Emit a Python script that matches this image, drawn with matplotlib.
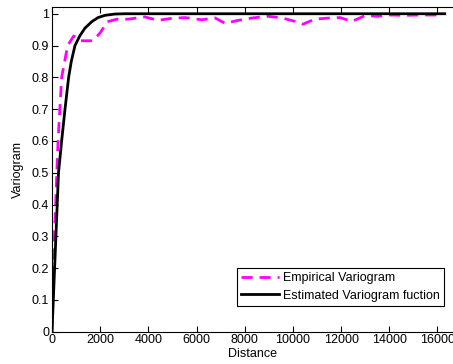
import numpy as np
import matplotlib.pyplot as plt

plt.rcParams['font.family'] = ['Liberation Sans', 'DejaVu Sans']

# empirical variogram
emp_d = [0, 100, 250, 400, 650, 900, 1200, 1700, 2000, 2300, 2700, 3150, 3860,
         4400, 4900, 5520, 6220, 6760, 7180, 7720, 8340, 8960, 9540, 10080,
         10410, 10910, 11410, 11950, 12450, 12990, 13530, 14020, 14650, 15270, 15970]
emp_v = [0, 0.3, 0.6, 0.8, 0.9, 0.93, 0.915, 0.915, 0.94, 0.975, 0.983, 0.983, 0.99,
         0.979, 0.985, 0.988, 0.981, 0.987, 0.97, 0.979, 0.987, 0.992, 0.987, 0.976,
         0.967, 0.983, 0.986, 0.988, 0.976, 0.994, 0.992, 0.996, 0.995, 0.996, 0.996]

# estimated variogram model
mod_d = [0, 270, 400, 540, 690, 800, 954, 1150, 1370, 1650, 1910, 2200, 2600, 3000, 16300]
mod_v = [0, 0.5, 0.6, 0.7, 0.8, 0.85, 0.9, 0.93, 0.955, 0.975, 0.988, 0.995, 0.999, 1.0, 1.0]

fig = plt.figure(figsize=(4.53, 3.64), dpi=100)
ax = fig.add_axes([0.1148, 0.0887, 0.885, 0.891])
ax.plot(emp_d, emp_v, color='#ff00ff', lw=2, dashes=(4, 2.5), label='Empirical Variogram')
ax.plot(mod_d, mod_v, color='black', lw=2, label='Estimated Variogram fuction')
ax.set_xlim(0, 16640)
ax.set_ylim(0, 1.02)
ax.set_xticks(np.arange(0, 16001, 2000))
ax.set_yticks(np.arange(0, 1.01, 0.1))
ax.set_yticklabels(['0', '0.1', '0.2', '0.3', '0.4', '0.5', '0.6', '0.7', '0.8', '0.9', '1'])
ax.tick_params(direction='in', top=True, right=False, labelsize=9, length=4, pad=2)
ax.spines['right'].set_visible(False)
ax.set_xlabel('Distance', fontsize=9, labelpad=1)
ax.set_ylabel('Variogram', fontsize=9, labelpad=6)
leg = ax.legend(loc='lower right', bbox_to_anchor=(0.9776, 0.079), borderaxespad=0,
                fontsize=9, fancybox=False, edgecolor='black', framealpha=1,
                borderpad=0.35, labelspacing=0.45, handlelength=3.0, handletextpad=0.3)
leg.get_frame().set_linewidth(0.8)
fig.savefig('out.png', dpi=100)
